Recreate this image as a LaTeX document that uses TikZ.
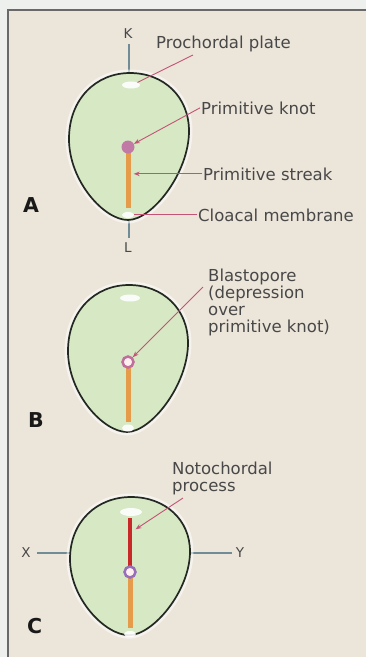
\documentclass[tikz,border=0pt]{standalone}
\usepackage{fontspec}
\setmainfont{DejaVu Sans}
\usetikzlibrary{arrows.meta,shapes.geometric,positioning}

\definecolor{bgpage}{RGB}{238,240,238}
\definecolor{bgpanel}{RGB}{236,229,218}
\definecolor{framegray}{RGB}{105,105,105}
\definecolor{eggfill}{RGB}{214,232,196}
\definecolor{eggline}{RGB}{35,40,35}
\definecolor{axisline}{RGB}{112,140,150}
\definecolor{pointercol}{RGB}{196,84,118}
\definecolor{knotcol}{RGB}{192,122,165}
\definecolor{ringcol}{RGB}{150,110,185}
\definecolor{streakcol}{RGB}{230,155,75}
\definecolor{notocol}{RGB}{200,40,40}
\definecolor{labeltext}{RGB}{72,72,72}

% контур зародыша (верх в точке (0,0))
\newcommand{\eggpath}{(0,0) .. controls (34,0) and (59,24) .. (59,58) .. controls (59,100) and (22,147) .. (-2,147) .. controls (-26,147) and (-61,108) .. (-61,66) .. controls (-61,26) and (-34,0) .. (0,0) -- cycle}

\tikzset{
  lbl/.style={font=\fontsize{16.5}{17}\selectfont, text=labeltext, inner sep=1pt, align=left},
  letter/.style={font=\fontsize{20.5}{20.5}\selectfont\bfseries, text=black!90, inner sep=0pt},
  axislbl/.style={font=\fontsize{13.5}{13.5}\selectfont, text=labeltext, inner sep=0pt},
  pointer/.style={draw=pointercol, line width=0.9pt, -{Stealth[length=6pt,width=4.5pt]}},
  leader/.style={draw=pointercol, line width=0.9pt},
  axis/.style={draw=axisline, line width=1.2pt},
  eggbody/.style={fill=eggfill, draw=eggline, line width=1.7pt},
  egghalo/.style={draw=white, line width=7pt, opacity=0.55},
  spot/.style={ellipse, fill=white, draw=none, inner sep=0pt, minimum width=18pt, minimum height=7pt, opacity=0.9},
  knot/.style={circle, fill=knotcol, inner sep=0pt, minimum size=13pt},
  ring/.style={circle, draw=ringcol, line width=2.5pt, fill=white!75!pink, inner sep=0pt, minimum size=11pt},
  streak/.style={rectangle, fill=streakcol, inner sep=0pt, minimum width=5pt},
  noto/.style={rectangle, fill=notocol, inner sep=0pt, minimum width=4pt},
}

\begin{document}
\begin{tikzpicture}[x=1pt,y=-1pt]
\useasboundingbox (0,0) rectangle (366,657);
\fill[bgpage] (0,0) rectangle (366,657);
\fill[bgpanel] (7,9) rectangle (366,657);
\draw[framegray, line width=2pt] (7.5,657) -- (7.5,9.5) -- (366,9.5);

% Оси
\node[axislbl] (K) at (128,34) {K};
\node[axislbl] (L) at (128,248) {L};
\node[axislbl] (X) at (26,553) {X};
\node[axislbl] (Y) at (240,553) {Y};
\coordinate (eggAtop) at (129,73);
\coordinate (eggAbot) at (129,220);
\coordinate (eggCleft) at (71,553);
\coordinate (eggCright) at (191,553);
\draw[axis] ([xshift=1pt,yshift=-5pt]K.south) -- (eggAtop);
\draw[axis] (eggAbot) -- ([xshift=1pt,yshift=5pt]L.north);
\draw[axis] ([xshift=6pt]X.east) -- (eggCleft);
\draw[axis] (eggCright) -- ([xshift=-4pt]Y.west);

% Зародыши
\begin{scope}[shift={(130,73)}]
  \draw[egghalo] \eggpath;
  \draw[eggbody] \eggpath;
\end{scope}
\begin{scope}[shift={(129,285)}]
  \draw[egghalo] \eggpath;
  \draw[eggbody] \eggpath;
\end{scope}
\begin{scope}[shift={(131,497)}, yscale=0.94]
  \draw[egghalo] \eggpath;
  \draw[eggbody] \eggpath;
\end{scope}

% A
\node[spot] (spotAtop) at (131,85) {};
\node[spot, minimum width=12pt, minimum height=6pt] (spotAbot) at (128,215) {};
\node[streak, minimum height=55pt] (streakA) at (128,180.5) {};
\node[knot] (knotA) at (128,147) {};

% B
\node[spot, minimum width=20pt] (spotBtop) at (130,298) {};
\node[spot, minimum width=12pt, minimum height=7pt] (spotBbot) at (128,428) {};
\node[streak, minimum height=54pt] (streakB) at (128,395) {};
\node[ring, draw=knotcol!90!purple] (knotB) at (128,362) {};

% C
\node[spot, minimum width=22pt, minimum height=8pt] (spotCtop) at (131,512) {};
\node[spot, minimum width=12pt, minimum height=6pt] (spotCbot) at (130,634) {};
\node[noto, minimum height=48pt] (notoC) at (130,542) {};
\node[streak, minimum height=50pt] (streakC) at (130,603) {};
\node[ring] (knotC) at (130,572) {};

% Подписи
\node[lbl, anchor=base west] (prochordal) at (155,48) {Prochordal plate};
\node[lbl, anchor=base west] (knotlbl) at (200,114) {Primitive knot};
\node[lbl, anchor=base west] (streaklbl) at (202,180) {Primitive streak};
\node[lbl, anchor=base west] (cloacallbl) at (197,221) {Cloacal membrane};
\node[lbl, anchor=north west] (blastolbl) at (207,267.5) {Blastopore\\(depression\\over\\primitive knot)};
\node[lbl, anchor=north west] (notolbl) at (171,460.5) {Notochordal\\process};

\node[letter, anchor=base west] (A) at (23,212) {A};
\node[letter, anchor=base west] (B) at (28,427) {B};
\node[letter, anchor=base west] (C) at (27,633) {C};

% Связи
\coordinate (ppfrom) at (193,55);
\coordinate (blastofrom) at (203,287);
\coordinate (notofrom) at (183,498);
\coordinate (notoat) at (133,531);
\draw[leader] (ppfrom) -- (spotAtop.north east);
\draw[pointer] (knotlbl.west) -- (knotA);
\draw[pointer, shorten >=3pt] (streaklbl.west) -- (streaklbl.west -| streakA.east);
\draw[leader] (cloacallbl.west) -- (cloacallbl.west -| spotAbot.east);
\draw[pointer] (blastofrom) -- (knotB);
\draw[pointer, shorten >=3pt] (notofrom) -- (notoat);

\end{tikzpicture}
\end{document}
